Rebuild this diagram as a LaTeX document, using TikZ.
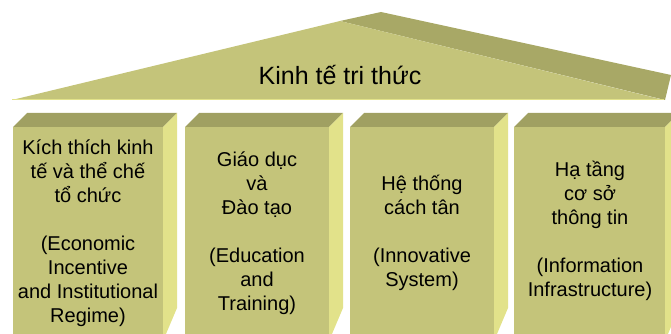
\documentclass[tikz,border=0pt]{standalone}
\usepackage{fontspec}
\setmainfont{Liberation Sans}
\definecolor{pfront}{RGB}{196,196,122}
\definecolor{ptop}{RGB}{160,160,98}
\definecolor{pside}{RGB}{226,226,138}
\definecolor{rback}{RGB}{168,168,102}
\def\pillar(#1:#2){%
	\fill[ptop] (#1,127) -- (#1+14,113) -- (#2+14,113) -- (#2,127) -- cycle;
	\fill[pside] (#2,127) -- (#2+14,113) -- (#2+14,308) -- (#2,341) -- cycle;
	\fill[pfront] (#1,127) rectangle (#2,341);}

\begin{document}
\begin{tikzpicture}[x=1pt, y=-1pt,
		pillartext/.style={align=center, font=\fontsize{20}{24}\selectfont}]
			%%%%% START %%%%%
			
			\useasboundingbox (0,0) rectangle (671,334);
			\clip (0,0) rectangle (671,334);
			
			% roof
			\fill[rback] (340,21) -- (381,12) -- (671,75) -- (665,100) -- cycle;
			\fill[pfront] (12,100) -- (340,21) -- (664,100) -- cycle;
			\draw[pside, line width=1pt] (12,100) -- (664,100);
			\node[anchor=base, font=\fontsize{25}{30}\selectfont] (roof) at (340,85) {Kinh tế tri thức};
			
			% pillars
			\pillar(13:163)
			\pillar(185:329)
			\pillar(350:494)
			\pillar(514:665)
			
			\node[pillartext] (econ) at (88,233) {Kích thích kinh\\tế và thể chế\\tổ chức\\[24pt](Economic\\Incentive\\and Institutional\\Regime)};
			\node[pillartext] (edu) at (257,233) {Giáo dục\\và\\Đào tạo\\[24pt](Education\\and\\Training)};
			\node[pillartext] (innov) at (422,233) {Hệ thống\\cách tân\\[24pt](Innovative\\System)};
			\node[pillartext] (info) at (590,231) {Hạ tầng\\cơ sở\\thông tin\\[24pt](Information\\Infrastructure)};
			
			%%%%% END %%%%%
\end{tikzpicture}
\end{document}
